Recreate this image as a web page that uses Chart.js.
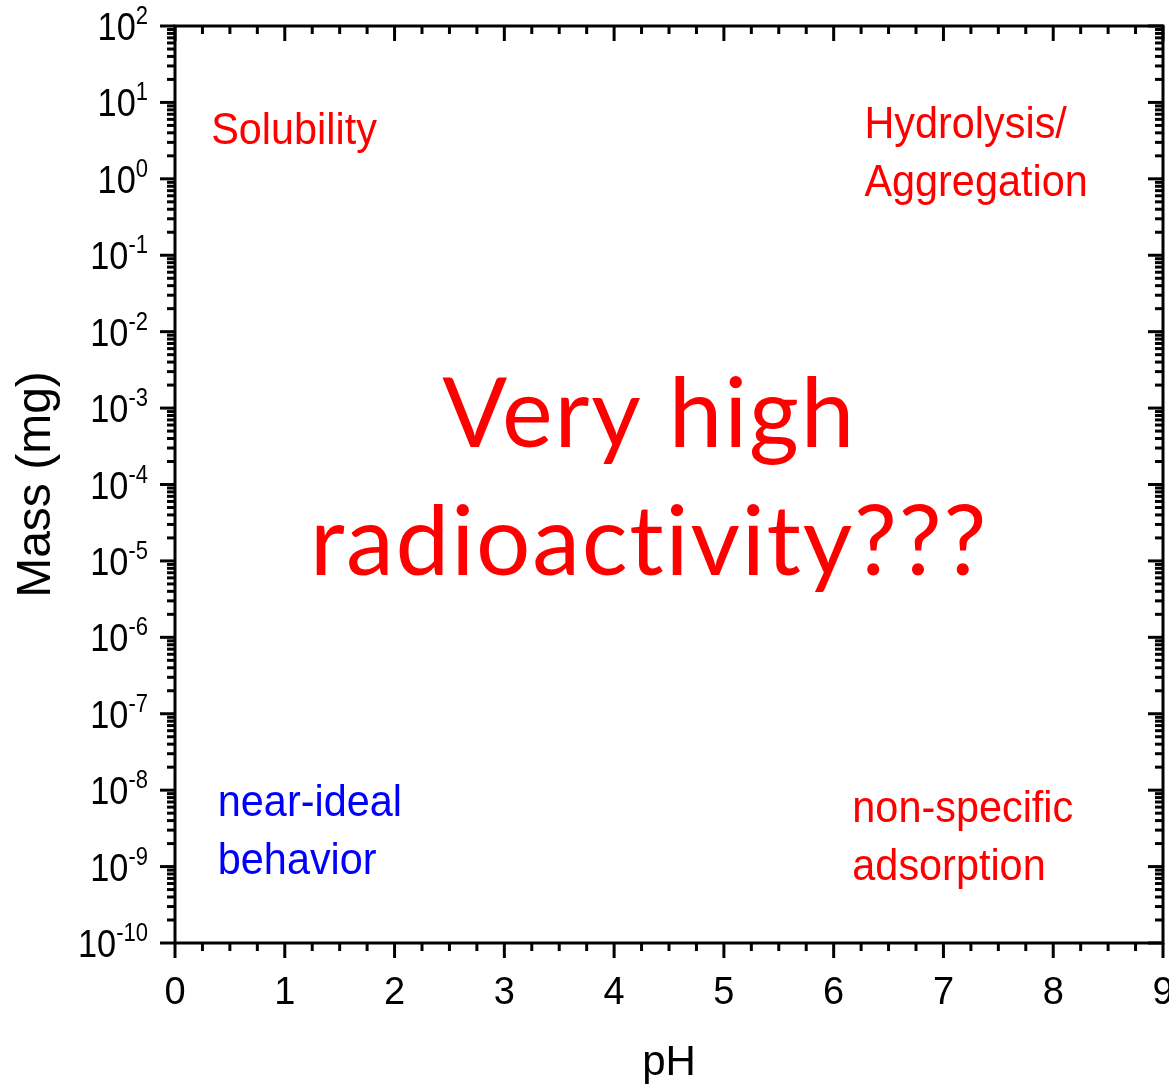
<!DOCTYPE html>
<html>
<head>
<meta charset="utf-8">
<title>Mass vs pH</title>
<script src="https://cdn.jsdelivr.net/npm/chart.js@4.4.1/dist/chart.umd.min.js"></script>
<style>
  html, body { margin: 0; padding: 0; background: #fff; }
  #wrap { width: 1169px; height: 1085px; }
</style>
</head>
<body>
<div id="wrap"><canvas id="chart"></canvas></div>
<script>
  // ----- Data -----
  const xTicks = [0, 1, 2, 3, 4, 5, 6, 7, 8, 9];
  const yExponents = [-10, -9, -8, -7, -6, -5, -4, -3, -2, -1, 0, 1, 2];
  const xTitle = "pH";
  const yTitle = "Mass (mg)";

  const solubilityText = ["Solubility"];
  const hydrolysisText = ["Hydrolysis/", "Aggregation"];
  const idealText = ["near-ideal", "behavior"];
  const adsorptionText = ["non-specific", "adsorption"];
  const centerText = ["Very high", "radioactivity???"];

  // where each block sits, in data units (pH, log10 mass of first baseline)
  const labelBlocks = [
    { lines: solubilityText, ph: 0.33, logm: 0.46, color: "#ff0000" },
    { lines: hydrolysisText, ph: 6.28, logm: 0.53, color: "#ff0000" },
    { lines: idealText, ph: 0.39, logm: -8.34, color: "#0000ff" },
    { lines: adsorptionText, ph: 6.17, logm: -8.42, color: "#ff0000" },
  ];

  const AXIS_FONT = '"Liberation Sans", Arial, sans-serif';
  const BIG_FONT = 'Lato, "Open Sans", sans-serif';

  // ----- Drawing helpers -----
  function line(ctx, x1, y1, x2, y2) {
    ctx.beginPath();
    ctx.moveTo(x1, y1);
    ctx.lineTo(x2, y2);
    ctx.stroke();
  }

  // text squeezed horizontally by sx (the original uses a narrow face)
  function squeezed(ctx, text, x, y, sx) {
    ctx.save();
    ctx.translate(x, y);
    ctx.scale(sx, 1);
    ctx.fillText(text, 0, 0);
    ctx.restore();
  }

  const frame = {
    id: "frame",
    afterDraw(chart) {
      const { ctx, chartArea: a } = chart;
      const xs = chart.scales.x;
      const ys = chart.scales.y;
      const major = 15, minor = 8;

      ctx.save();
      ctx.strokeStyle = "#000";
      ctx.lineWidth = 3;
      ctx.lineCap = "butt";

      // x ticks: bottom outward, top inward
      for (let v = xTicks[0]; v <= xTicks[xTicks.length - 1] + 1e-9; v += 0.25) {
        const px = xs.getPixelForValue(v);
        const len = Math.abs(v - Math.round(v)) < 1e-9 ? major : minor;
        line(ctx, px, a.bottom, px, a.bottom + len);
        line(ctx, px, a.top, px, a.top + len);
      }

      // y ticks: left outward, right inward
      yExponents.forEach((e, i) => {
        const py = ys.getPixelForValue(Math.pow(10, e));
        line(ctx, a.left - major, py, a.left, py);
        line(ctx, a.right - major, py, a.right, py);
        if (i === yExponents.length - 1) return;
        for (let m = 2; m <= 9; m++) {
          const my = ys.getPixelForValue(m * Math.pow(10, e));
          line(ctx, a.left - minor, my, a.left, my);
          line(ctx, a.right - minor, my, a.right, my);
        }
      });

      // box
      ctx.strokeRect(a.left, a.top, a.right - a.left, a.bottom - a.top);

      // x tick labels
      ctx.fillStyle = "#000";
      ctx.font = "38px " + AXIS_FONT;
      ctx.textAlign = "center";
      ctx.textBaseline = "alphabetic";
      xTicks.forEach((v) => {
        ctx.fillText(String(v), xs.getPixelForValue(v), a.bottom + 61);
      });

      // y tick labels: 10 with superscript exponent
      const sq = 0.88;
      yExponents.forEach((e) => {
        const py = ys.getPixelForValue(Math.pow(10, e));
        const right = a.left - 27;
        ctx.textAlign = "left";
        ctx.font = "25px " + AXIS_FONT;
        const sup = String(e);
        const supW = ctx.measureText(sup).width * sq;
        ctx.font = "39px " + AXIS_FONT;
        const baseW = ctx.measureText("10").width * sq;
        squeezed(ctx, "10", right - supW - baseW, py + 14, sq);
        ctx.font = "25px " + AXIS_FONT;
        squeezed(ctx, sup, right - supW, py - 2, sq);
      });

      // axis titles
      ctx.textAlign = "center";
      ctx.font = "42px " + AXIS_FONT;
      ctx.fillText(xTitle, (a.left + a.right) / 2, 1075);
      ctx.save();
      ctx.translate(50, (a.top + a.bottom) / 2);
      ctx.rotate(-Math.PI / 2);
      ctx.font = "48px " + AXIS_FONT;
      ctx.fillText(yTitle, 0, 0);
      ctx.restore();

      // region labels
      ctx.font = "45px " + AXIS_FONT;
      ctx.textAlign = "left";
      labelBlocks.forEach((b) => {
        const px = xs.getPixelForValue(b.ph);
        const py = ys.getPixelForValue(Math.pow(10, b.logm));
        ctx.fillStyle = b.color;
        b.lines.forEach((t, i) => squeezed(ctx, t, px, py + i * 58, 0.92));
      });

      // centre label
      ctx.font = "96px " + BIG_FONT;
      ctx.letterSpacing = "1.8px";
      ctx.textAlign = "center";
      ctx.fillStyle = "#ff0000";
      const cx = xs.getPixelForValue(4.32);
      const cy = ys.getPixelForValue(Math.pow(10, -3.51));
      centerText.forEach((t, i) => ctx.fillText(t, cx, cy + i * 128));

      ctx.restore();
    },
  };

  new Chart(document.getElementById("chart"), {
    type: "scatter",
    data: { datasets: [{ data: [] }] },
    options: {
      responsive: true,
      maintainAspectRatio: false,
      animation: false,
      events: [],
      layout: { padding: { left: 175, right: 6, top: 26, bottom: 142 } },
      plugins: { legend: { display: false }, tooltip: { enabled: false } },
      scales: {
        x: { type: "linear", min: 0, max: 9, display: false },
        y: { type: "logarithmic", min: 1e-10, max: 100, display: false },
      },
    },
    plugins: [frame],
  });
</script>
</body>
</html>
